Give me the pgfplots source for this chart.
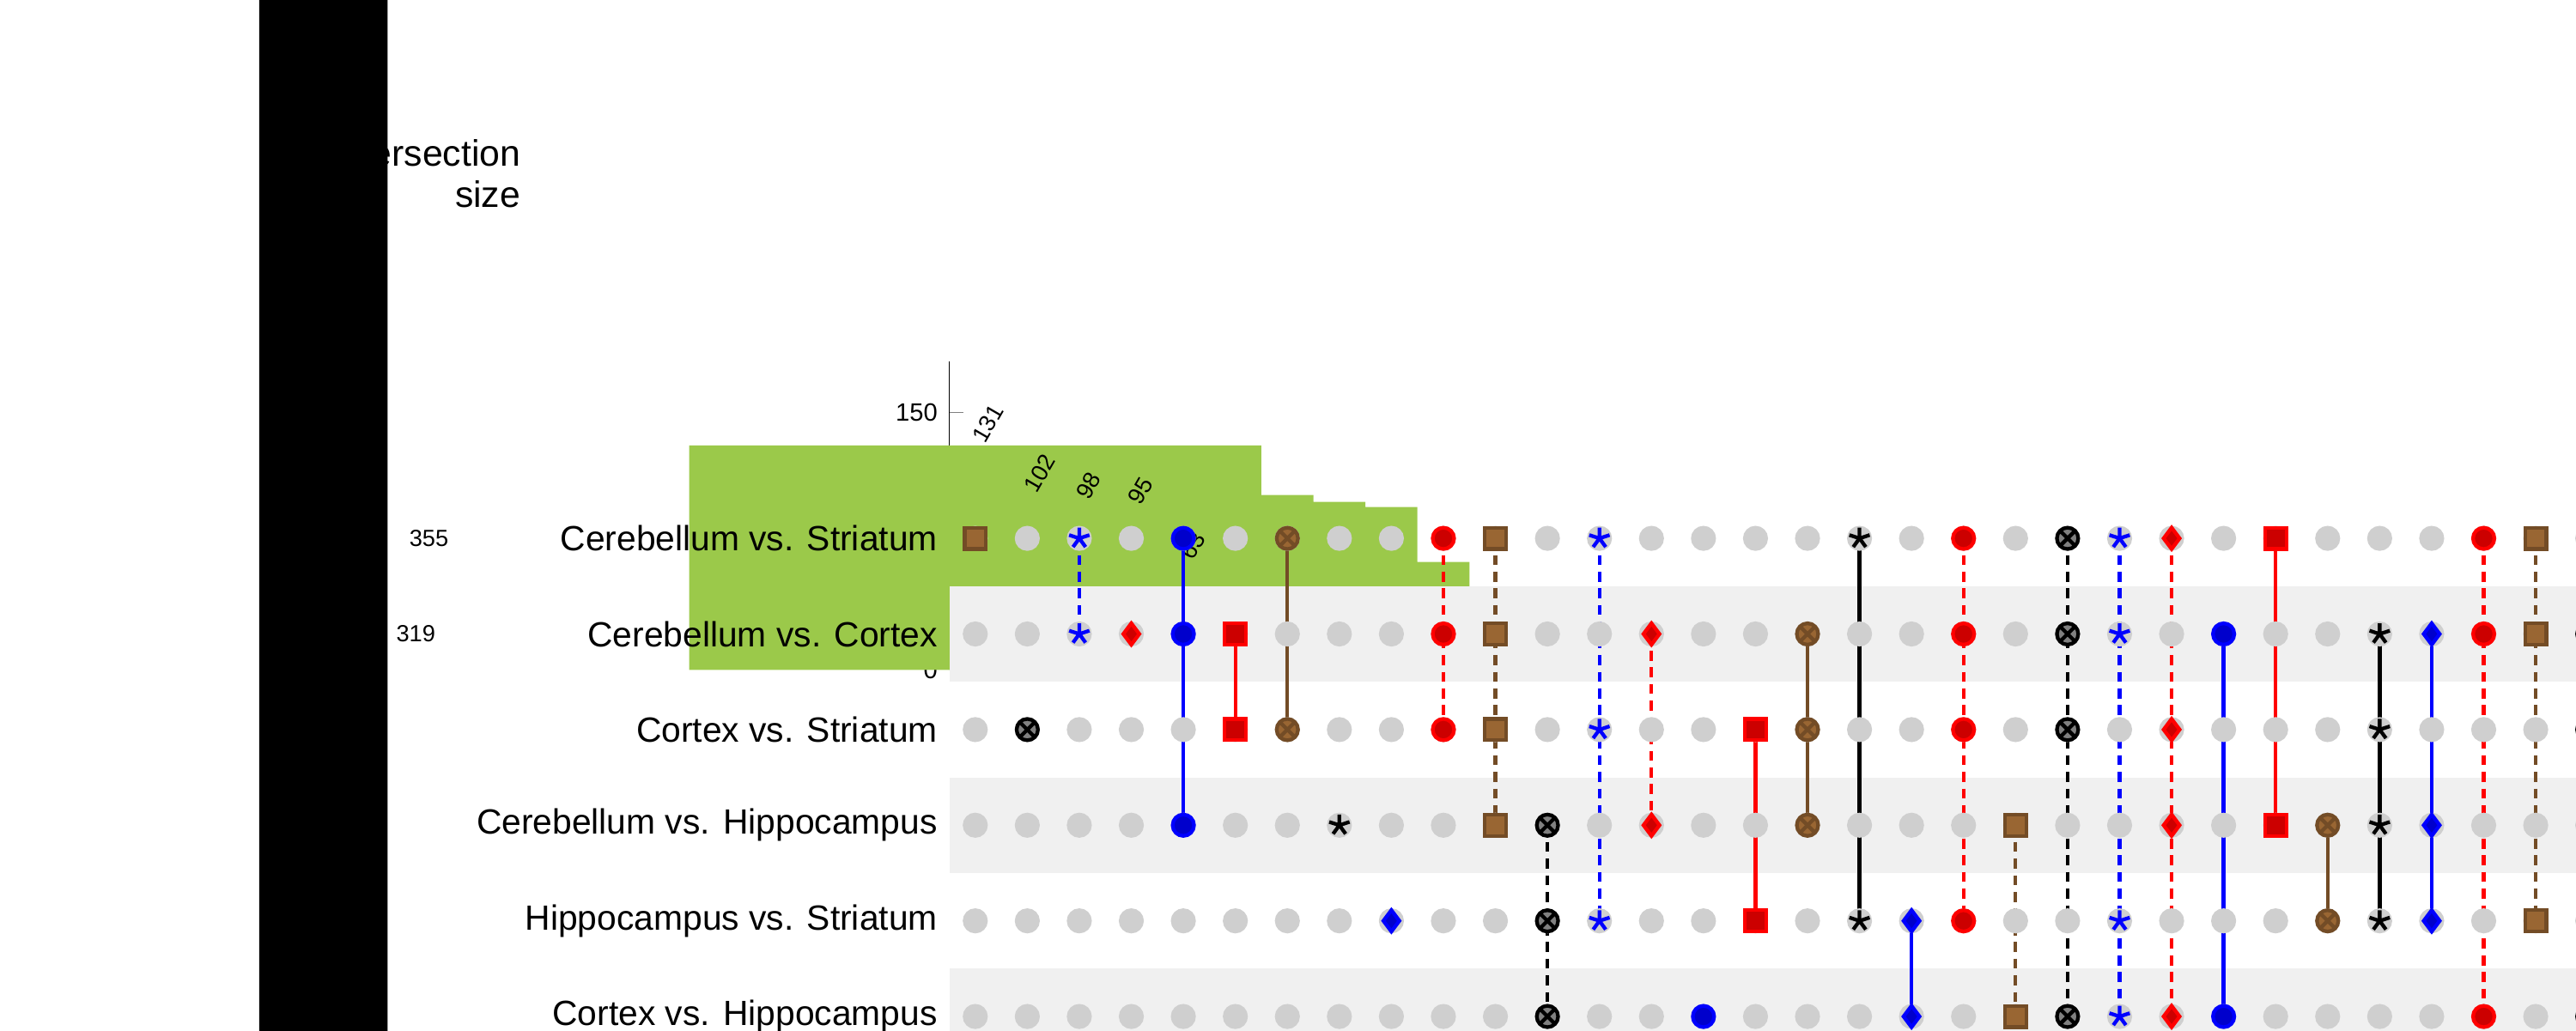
\documentclass[border=0pt]{standalone}
\usepackage{fontspec}
\setmainfont{Liberation Sans}
\usepackage{pgfplots}
\usepackage{pgfplotstable}
\pgfplotsset{compat=1.18}
\definecolor{gr}{HTML}{9BC94A}
\definecolor{dot}{HTML}{CFCFCF}
\definecolor{band}{HTML}{F0F0F0}
\pgfplotstableread{
x d
1 0
2 0
3 0
4 0
5 0
6 0
7 0
8 0
9 0
10 0
11 0
12 0
13 0
14 0
15 0
16 0
17 0
18 0
19 0
20 0
21 0
22 0
23 0
24 0
25 0
26 0
27 0
28 0
29 0
30 0
31 0
32 0
33 0
34 0
}\cols
\begin{document}
\begin{tikzpicture}[x=1pt,y=1pt]
\useasboundingbox (0,0) rectangle (772,309);
% Intersection bars
\begin{axis}[at={(182.5,210.5)},anchor=south west,scale only axis,width=530,height=92.5,
 xmin=0.5,xmax=34.5,ymin=0,ymax=180,axis y line*=left,axis x line=none,
 ytick={0,50,100,150},tick label style={font=\fontsize{7.5}{9}\selectfont},
 /pgf/number format/assume math mode=true,
 ylabel={},clip=false]
\addplot[ybar,bar width=11,fill=gr,draw=none,nodes near coords,
 every node near coord/.style={rotate=60,anchor=west,font=\fontsize{7}{8}\selectfont,black,inner sep=1.5pt}]
 coordinates {(1,131)(2,102)(3,98)(4,95)(5,63)(6,21)(7,21)(8,20)(9,12)(10,9)(11,8)(12,7)(13,7)(14,6)(15,6)(16,5)(17,4)(18,4)(19,4)(20,3)(21,3)(22,2)(23,2)(24,2)(25,2)(26,2)(27,2)(28,1)(29,1)(30,1)(31,1)(32,1)(33,1)(34,1)};
\end{axis}
\node[align=right,anchor=east,font=\fontsize{11}{12.5}\selectfont] at (159.5,257) {Intersection\\size};
% Matrix
\begin{axis}[at={(182.5,35)},anchor=south west,scale only axis,width=530,height=172,
 xmin=0.5,xmax=34.5,ymin=0.5,ymax=6.5,y dir=reverse,
 axis line style={draw=none},tick style={draw=none},xtick=\empty,
 ytick={1,...,6},yticklabels={Cerebellum vs. Striatum,Cerebellum vs. Cortex,Cortex vs. Striatum,Cerebellum vs. Hippocampus,Hippocampus vs. Striatum,Cortex vs. Hippocampus},
 yticklabel style={font=\fontsize{10.5}{12}\selectfont},clip=false]
\fill[band] (axis cs:0.5,1.5) rectangle (axis cs:34.5,2.5);
\fill[band] (axis cs:0.5,3.5) rectangle (axis cs:34.5,4.5);
\fill[band] (axis cs:0.5,5.5) rectangle (axis cs:34.5,6.5);
\addplot[only marks,mark=*,mark size=3.2,dot] table[x=x,y expr=1]{\cols};
\addplot[only marks,mark=*,mark size=3.2,dot] table[x=x,y expr=2]{\cols};
\addplot[only marks,mark=*,mark size=3.2,dot] table[x=x,y expr=3]{\cols};
\addplot[only marks,mark=*,mark size=3.2,dot] table[x=x,y expr=4]{\cols};
\addplot[only marks,mark=*,mark size=3.2,dot] table[x=x,y expr=5]{\cols};
\addplot[only marks,mark=*,mark size=3.2,dot] table[x=x,y expr=6]{\cols};
\pgfplotsset{every axis plot/.append style={gr,line width=1.1pt,mark=*,mark size=3.2}}
\addplot coordinates {(1,1)};
\addplot coordinates {(2,3)};
\addplot coordinates {(3,1)(3,2)};
\addplot coordinates {(4,2)};
\addplot coordinates {(5,1)(5,2)(5,4)};
\addplot coordinates {(6,2)(6,3)};
\addplot coordinates {(7,1)(7,3)};
\addplot coordinates {(8,4)};
\addplot coordinates {(9,5)};
\addplot coordinates {(10,1)(10,2)(10,3)};
\addplot coordinates {(11,1)(11,2)(11,3)(11,4)};
\addplot coordinates {(12,4)(12,5)(12,6)};
\addplot coordinates {(13,1)(13,3)(13,5)};
\addplot coordinates {(14,2)(14,4)};
\addplot coordinates {(15,6)};
\addplot coordinates {(16,3)(16,5)};
\addplot coordinates {(17,2)(17,3)(17,4)};
\addplot coordinates {(18,1)(18,5)};
\addplot coordinates {(19,5)(19,6)};
\addplot coordinates {(20,1)(20,2)(20,3)(20,5)};
\addplot coordinates {(21,4)(21,6)};
\addplot coordinates {(22,1)(22,2)(22,3)(22,6)};
\addplot coordinates {(23,1)(23,2)(23,5)(23,6)};
\addplot coordinates {(24,1)(24,3)(24,4)(24,6)};
\addplot coordinates {(25,2)(25,6)};
\addplot coordinates {(26,1)(26,4)};
\addplot coordinates {(27,4)(27,5)};
\addplot coordinates {(28,2)(28,3)(28,4)(28,5)};
\addplot coordinates {(29,2)(29,4)(29,5)};
\addplot coordinates {(30,1)(30,2)(30,6)};
\addplot coordinates {(31,1)(31,2)(31,5)};
\addplot coordinates {(32,2)(32,3)(32,6)};
\addplot coordinates {(33,2)(33,5)(33,6)};
\addplot coordinates {(34,1)(34,3)(34,4)};
\end{axis}
% Set size
\begin{axis}[at={(716,35)},anchor=south west,scale only axis,width=61.5,height=172,
 xmin=0,xmax=567,ymin=0.5,ymax=6.5,y dir=reverse,axis x line*=bottom,axis y line=none,
 xtick={0,200,400},xticklabel style={rotate=90,anchor=east,font=\fontsize{7.5}{9}\selectfont},
 /pgf/number format/assume math mode=true,
 xlabel={Set size},xlabel style={font=\fontsize{11}{12}\selectfont,yshift=2pt},clip=false]
\addplot[xbar,bar width=18,fill=black,draw=none,nodes near coords,
 every node near coord/.style={anchor=west,font=\fontsize{7}{8}\selectfont,black,xshift=3pt}]
 coordinates {(355,1)(319,2)(187,3)(120,4)(50,5)(31,6)};
\end{axis}
\end{tikzpicture}
\end{document}
